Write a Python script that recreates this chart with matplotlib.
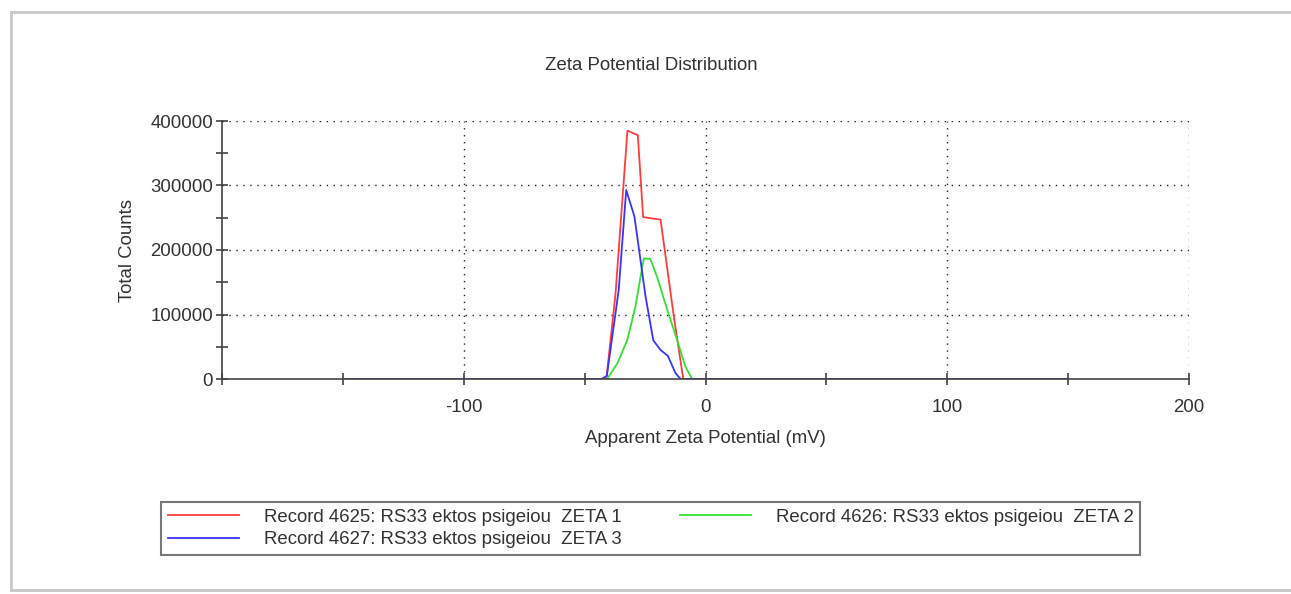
"""
Zeta potential distribution of three records (RS33 ektos psigeiou)
redrawn from a Zetasizer report screenshot.
"""
import numpy as np
import matplotlib.pyplot as plt
from matplotlib.ticker import MultipleLocator, FuncFormatter

plt.rcParams['font.family'] = ['Liberation Sans', 'DejaVu Sans']

## data (mV, total counts)
x_red = [-150, -41.0, -37.2, -32.3, -28.0, -25.8, -18.6, -13.1, -9.2, 150]
y_red = [0, 0, 133000, 385000, 378000, 251000, 247000, 97000, 0, 0]

x_green = [-150, -40.7, -36.5, -32.4, -29.0, -26.9, -25.5, -22.8, -20.0,
           -15.8, -11.7, -8.3, -5.5, 150]
y_green = [0, 0, 24000, 60000, 112000, 158000, 187000, 186000, 158000,
           107000, 60000, 19000, 0, 0]

x_blue = [-150, -43.0, -40.8, -35.9, -32.8, -29.4, -24.8, -21.6, -18.6,
          -15.6, -12.4, -10.3, 150]
y_blue = [0, 0, 5000, 138000, 293000, 252000, 128000, 60000, 45000,
          36000, 9000, 0, 0]

labels = ['Record 4625: RS33 ektos psigeiou  ZETA 1',
          'Record 4626: RS33 ektos psigeiou  ZETA 2',
          'Record 4627: RS33 ektos psigeiou  ZETA 3']

W, H = 1291, 594
FS = 13.4
TXT = '#333333'

fig = plt.figure(figsize=(W/100, H/100), dpi=100)
ax = fig.add_axes([222/W, 1-379/H, (1189-222)/W, (379-121)/H])

l1, = ax.plot(x_red, y_red, color='#ff3b3b', lw=1.3)
l2, = ax.plot(x_green, y_green, color='#33e033', lw=1.3)
l3, = ax.plot(x_blue, y_blue, color='#3535ff', lw=1.3)

ax.set_xlim(-200, 200)
ax.set_ylim(0, 400000)

## only left and bottom axis lines
for s in ['top', 'right']:
    ax.spines[s].set_visible(False)
for s in ['left', 'bottom']:
    ax.spines[s].set_color('#444444')
    ax.spines[s].set_linewidth(1.2)

ax.xaxis.set_major_locator(MultipleLocator(100))
ax.xaxis.set_minor_locator(MultipleLocator(50))
ax.yaxis.set_major_locator(MultipleLocator(100000))
ax.yaxis.set_minor_locator(MultipleLocator(50000))
ax.xaxis.set_major_formatter(FuncFormatter(lambda v, p: '' if v < -150 else '%d' % v))
ax.yaxis.set_major_formatter(FuncFormatter(lambda v, p: '%d' % v))
ax.tick_params(which='both', direction='inout', length=9, width=1.1,
               color='#333333', labelsize=FS, labelcolor=TXT)
ax.tick_params(axis='x', which='major', pad=10)
ax.tick_params(axis='y', which='major', pad=2)

## dotted grid, skip the lines lying on the axes
for v in [-100, 0, 100, 200]:
    ax.axvline(v, color='#222222', lw=1.0, ls=(0, (1, 4)), zorder=0)
for v in [100000, 200000, 300000, 400000]:
    ax.axhline(v, color='#222222', lw=1.0, ls=(0, (1, 4)), zorder=0)

ax.set_xlabel('Apparent Zeta Potential (mV)', fontsize=FS, color=TXT, labelpad=10)
ax.set_ylabel('Total Counts', fontsize=FS, color=TXT, labelpad=10)
fig.text(651/W, 1-65/H, 'Zeta Potential Distribution', fontsize=FS,
         color=TXT, ha='center', va='center')

leg = fig.legend([l1, l3, l2], [labels[0], labels[2], labels[1]], ncol=2,
                 loc='upper left', bbox_to_anchor=(161/W, 1-502/H),
                 fontsize=FS, frameon=True, fancybox=False,
                 handlelength=3.85, handletextpad=1.34, columnspacing=3.1,
                 labelspacing=0.3, borderpad=0.35, borderaxespad=0)
leg.get_frame().set_edgecolor('#555555')
leg.get_frame().set_linewidth(1.5)
for t in leg.get_texts():
    t.set_color(TXT)

## the report window border
for xs, ys in [([11, 11], [12, 590]), ([11, W], [12, 12]), ([11, W], [590, 590])]:
    fig.add_artist(plt.Line2D([a/W for a in xs], [1-b/H for b in ys],
                              transform=fig.transFigure, color='#c8c8c8', lw=2))

fig.savefig('out.png', dpi=100)
